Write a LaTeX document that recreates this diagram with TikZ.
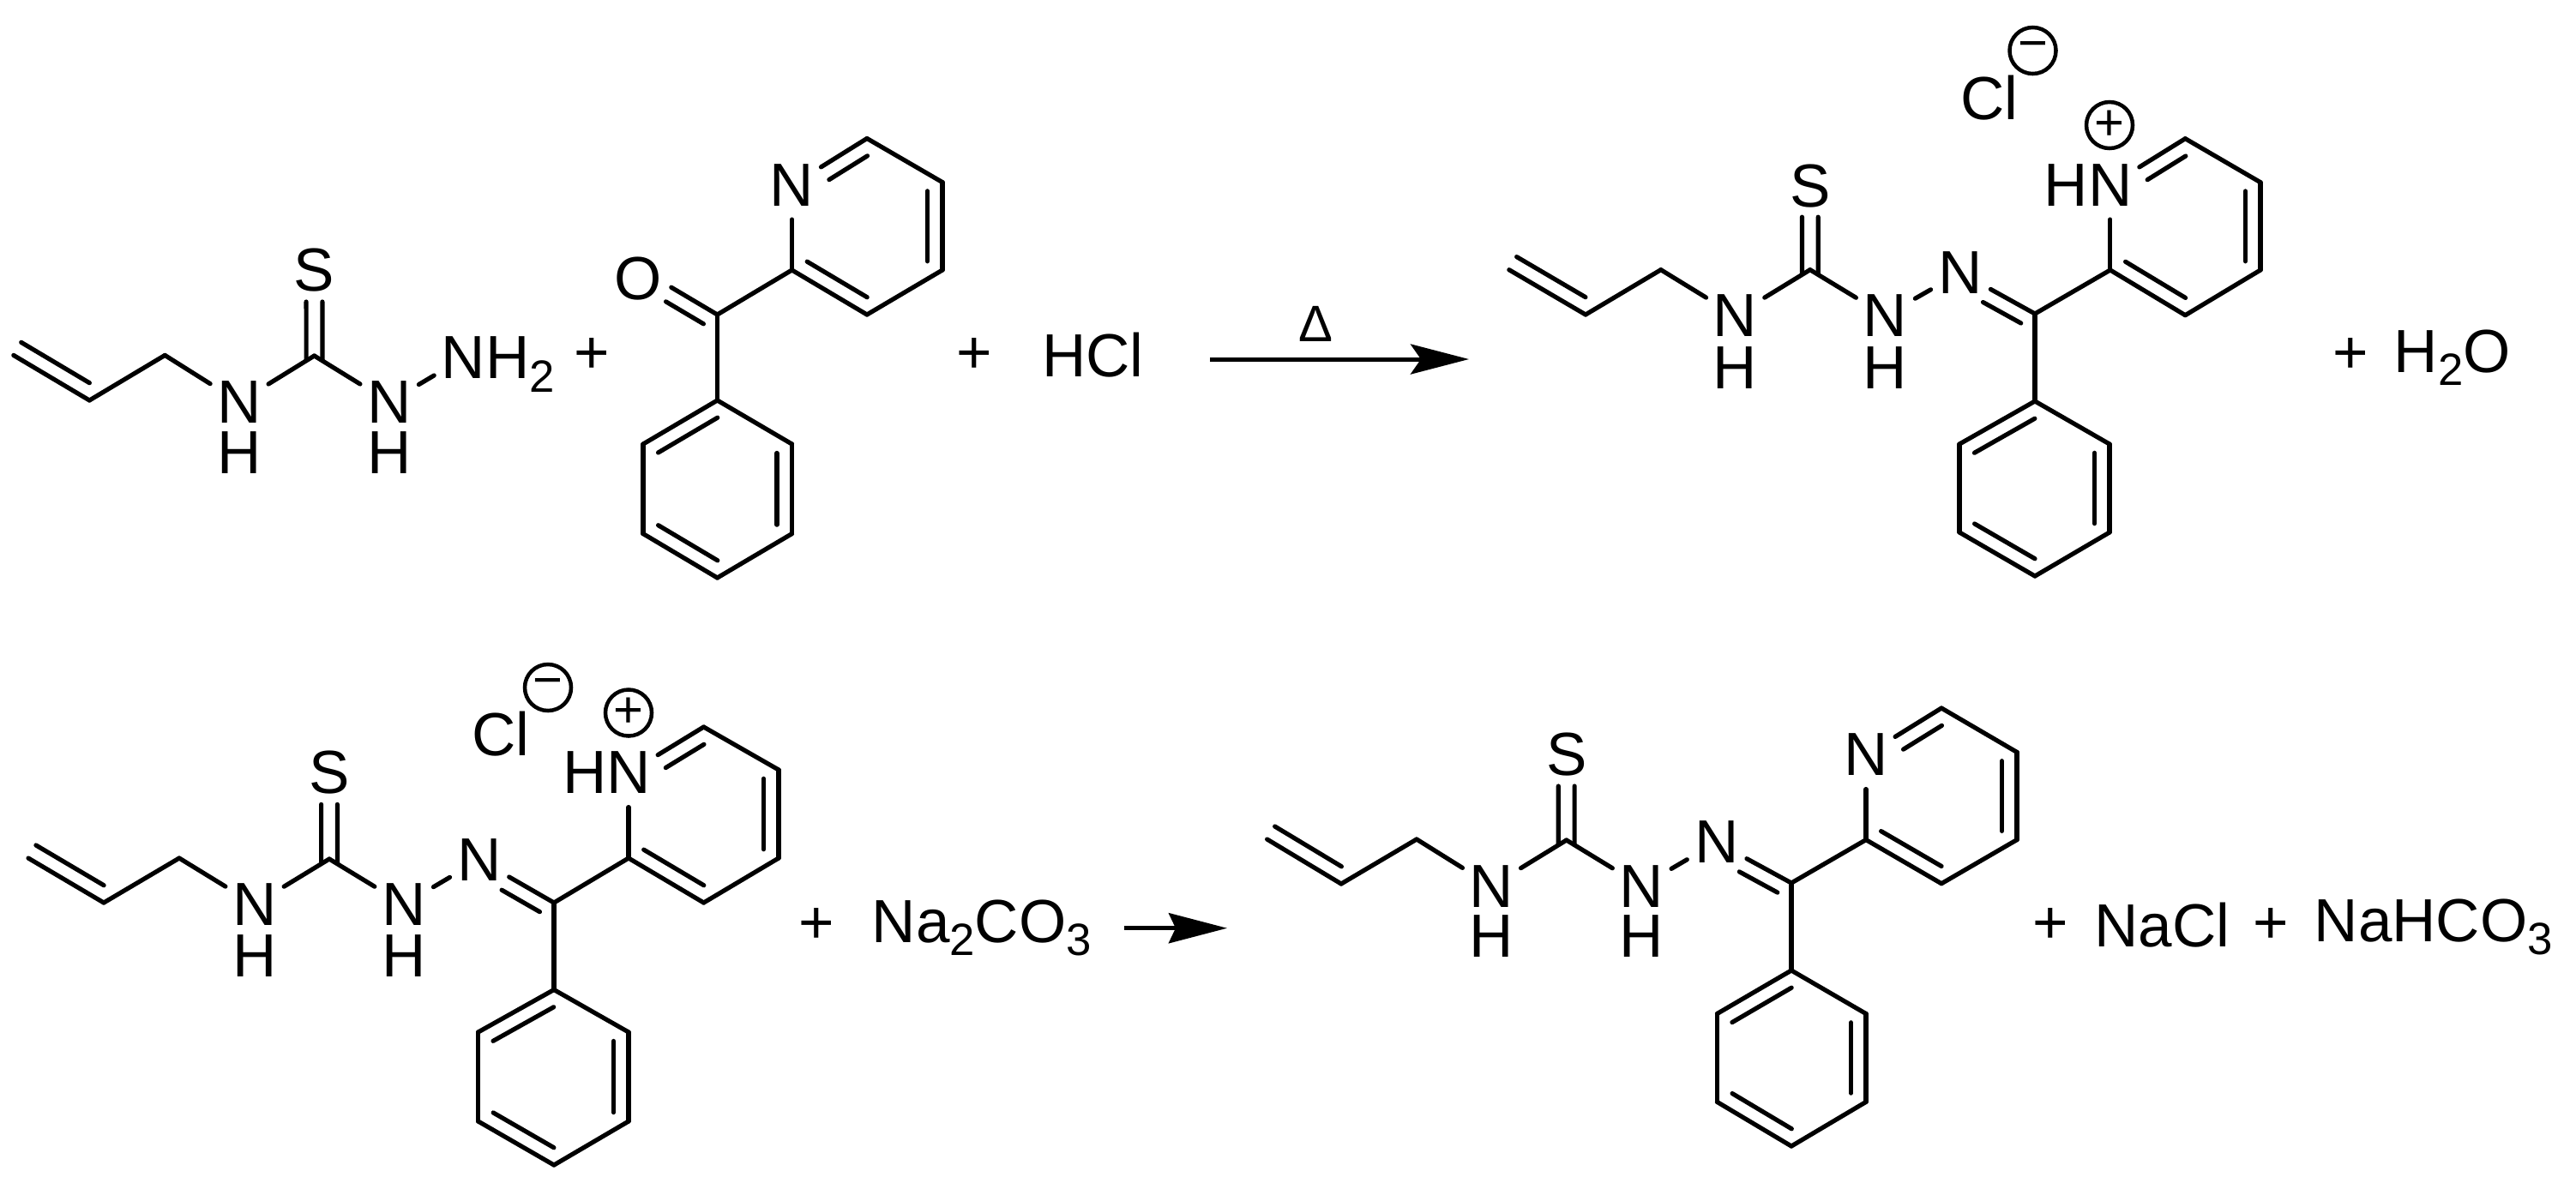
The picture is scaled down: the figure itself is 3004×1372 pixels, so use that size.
\documentclass[tikz,border=0pt]{standalone}
\usepackage{fontspec}
\setmainfont{Liberation Sans}
\usetikzlibrary{arrows.meta,calc}
\newcommand{\subs}[1]{\raisebox{-4.5pt}{\fontsize{15}{15}\selectfont #1}}
% parallel line of a double bond, on the right hand of a->b
\newcommand{\inbond}[5][.175cm]{
	\coordinate (n) at ($(#2)!#1!-90:(#5)$);
	\draw[bond] ($(#2)!#3!(#5)+(n)-(#2)$) -- ($(#2)!#4!(#5)+(n)-(#2)$);
}
\begin{document}
\begin{tikzpicture}[x=.01cm,y=-.01cm]
	\tikzstyle{bond}=[line width=.052cm,line cap=round]
	\tikzstyle{atom}=[circle,inner sep=0,outer sep=0,minimum size=.8cm,font=\fontsize{20.2}{24}\selectfont]
	\tikzstyle{lab}=[inner sep=0,font=\fontsize{20.2}{24}\selectfont]
	\tikzstyle{txt}=[anchor=base west,inner sep=0,font=\fontsize{20.2}{24}\selectfont]
	\tikzstyle{charge}=[circle,draw,line width=.045cm,inner sep=0,minimum size=.54cm,font=\fontsize{17}{20}\selectfont]
	\tikzstyle{rxn}=[line width=.05cm,-{Stealth[length=.68cm,width=.35cm,inset=.12cm]}]
	\useasboundingbox (0,0) rectangle (3004,1372);

	% first row, left
	\coordinate (a-1) at (15.8,414.4);
	\coordinate (a-2) at (104.3,467);
	\coordinate (a-3) at (192.3,414.4);
	\node[atom] (a-4) at (279,469) {N};
	\node[lab] (a-4h) at (279,528) {H};
	\coordinate (a-5) at (366.5,415);
	\node[atom] (a-s) at (366.5,315) {S};
	\node[atom] (a-6) at (454,469) {N};
	\node[lab] (a-6h) at (454,528) {H};
	\node[atom] (a-7) at (540.6,417.5) {N\smash{\rlap{H\subs{2}}}};

	\path[bond]
	(a-1) edge (a-2)
	(a-2) edge (a-3)
	(a-3) edge (a-4)
	(a-4) edge (a-5)
	(a-5) edge (a-6)
	(a-6) edge (a-7)
	;
	\inbond{a-2}{.1}{1}{a-1}
	\inbond[.094cm]{a-5}{-.05}{.63}{a-s}
	\inbond[-.094cm]{a-5}{-.05}{.63}{a-s}

	\node[lab] (p-1) at (690,415) {+};

	% ketone
	\coordinate (b-1) at (836.5,367);
	\coordinate (b-o) at (747,314);
	\node[atom] (b-ol) at (744.6,325.5) {O};
	\coordinate (b-2) at (923.5,315);
	\node[atom] (b-3) at (923.5,216) {N};
	\coordinate (b-4) at (1011,161.5);
	\coordinate (b-5) at (1099,212.6);
	\coordinate (b-6) at (1099,315);
	\coordinate (b-7) at (1011,367);
	\coordinate (b-8) at (836.5,467);
	\coordinate (b-9) at (923.5,518);
	\coordinate (b-10) at (923.5,622.6);
	\coordinate (b-11) at (836.5,674);
	\coordinate (b-12) at (750,622.6);
	\coordinate (b-13) at (750,518);

	\path[bond]
	(b-1) edge (b-2)
	(b-2) edge (b-3)
	(b-3) edge (b-4)
	(b-4) edge (b-5)
	(b-5) edge (b-6)
	(b-6) edge (b-7)
	(b-7) edge (b-2)
	(b-1) edge (b-8)
	(b-8) edge (b-9)
	(b-9) edge (b-10)
	(b-10) edge (b-11)
	(b-11) edge (b-12)
	(b-12) edge (b-13)
	(b-13) edge (b-8)
	;
	\inbond[0cm]{b-o}{.4}{1}{b-1}
	\inbond{b-o}{.43}{.92}{b-1}
	\inbond{b-3}{.39}{.9}{b-4}
	\inbond{b-5}{.1}{.9}{b-6}
	\inbond{b-7}{.1}{.9}{b-2}
	\inbond{b-9}{.1}{.9}{b-10}
	\inbond{b-11}{.1}{.9}{b-12}
	\inbond{b-13}{.1}{.9}{b-8}

	\node[lab] (p-2) at (1136,415) {+};
	\node[txt] (hcl) at (1214.4,439) {HCl};

	\coordinate (r1-s) at (1411,419);
	\coordinate (r1-e) at (1713,419);
	\draw[rxn] (r1-s) -- (r1-e);
	\node[lab,font=\fontsize{17}{20}\selectfont] (heat) at (1534,377.6) {Δ};

	% salt, first row
	\coordinate (c-1) at (1759.8,314.7);
	\coordinate (c-2) at (1849,367);
	\coordinate (c-3) at (1936.8,314.7);
	\node[atom] (c-4) at (2023.6,368) {N};
	\node[lab] (c-4h) at (2023.6,428.6) {H};
	\coordinate (c-5) at (2110.8,314.7);
	\node[atom] (c-s) at (2110.8,217) {S};
	\node[atom] (c-6) at (2198.6,368) {N};
	\node[lab] (c-6h) at (2198.6,428.6) {H};
	\node[atom] (c-7) at (2286.3,318) {N};
	\coordinate (c-8) at (2373,366);
	\coordinate (c-9) at (2460.8,315);
	\node[atom] (c-10) at (2460.8,216) {\llap{H}N};
	\coordinate (c-11) at (2548.3,161.7);
	\coordinate (c-12) at (2636,212.7);
	\coordinate (c-13) at (2636,315);
	\coordinate (c-14) at (2548.3,367.7);
	\coordinate (c-15) at (2373,468);
	\coordinate (c-16) at (2460,518);
	\coordinate (c-17) at (2460,621);
	\coordinate (c-18) at (2373,672);
	\coordinate (c-19) at (2285,621);
	\coordinate (c-20) at (2285,518);
	\node[charge] (c-pos) at (2460,146) {+};
	\node[charge] (c-neg) at (2370.5,59) {−};
	\node[txt] (c-cl) at (2285.5,139) {Cl};

	\path[bond]
	(c-1) edge (c-2)
	(c-2) edge (c-3)
	(c-3) edge (c-4)
	(c-4) edge (c-5)
	(c-5) edge (c-6)
	(c-6) edge (c-7)
	(c-7) edge (c-8)
	(c-8) edge (c-9)
	(c-9) edge (c-10)
	(c-10) edge (c-11)
	(c-11) edge (c-12)
	(c-12) edge (c-13)
	(c-13) edge (c-14)
	(c-14) edge (c-9)
	(c-8) edge (c-15)
	(c-15) edge (c-16)
	(c-16) edge (c-17)
	(c-17) edge (c-18)
	(c-18) edge (c-19)
	(c-19) edge (c-20)
	(c-20) edge (c-15)
	;
	\inbond{c-2}{.1}{1}{c-1}
	\inbond[.094cm]{c-5}{-.05}{.63}{c-s}
	\inbond[-.094cm]{c-5}{-.05}{.63}{c-s}
	\inbond{c-7}{.4}{.91}{c-8}
	\inbond{c-10}{.39}{.9}{c-11}
	\inbond{c-12}{.1}{.9}{c-13}
	\inbond{c-14}{.1}{.9}{c-9}
	\inbond{c-16}{.1}{.9}{c-17}
	\inbond{c-18}{.1}{.9}{c-19}
	\inbond{c-20}{.1}{.9}{c-15}

	\node[lab] (p-3) at (2741,415) {+};
	\node[txt] (water) at (2791,434) {H\subs{2}O};

	% salt, second row
	\coordinate (d-1) at (33,1001);
	\coordinate (d-2) at (121,1053);
	\coordinate (d-3) at (209,1001);
	\node[atom] (d-4) at (297,1055) {N};
	\node[lab] (d-4h) at (297,1115) {H};
	\coordinate (d-5) at (384,1002);
	\node[atom] (d-s) at (384,901) {S};
	\node[atom] (d-6) at (471,1055) {N};
	\node[lab] (d-6h) at (471,1115) {H};
	\node[atom] (d-7) at (559,1003) {N};
	\coordinate (d-8) at (646,1053);
	\coordinate (d-9) at (733,1001);
	\node[atom] (d-10) at (733,901.5) {\llap{H}N};
	\coordinate (d-11) at (820.6,848);
	\coordinate (d-12) at (908,898);
	\coordinate (d-13) at (908,1001);
	\coordinate (d-14) at (820.6,1053);
	\coordinate (d-15) at (646,1154.5);
	\coordinate (d-16) at (733,1204);
	\coordinate (d-17) at (733,1308);
	\coordinate (d-18) at (646,1359);
	\coordinate (d-19) at (557.6,1308);
	\coordinate (d-20) at (557.6,1204);
	\node[charge] (d-pos) at (733,831.5) {+};
	\node[charge] (d-neg) at (639,802) {−};
	\node[txt] (d-cl) at (549.5,881) {Cl};

	\path[bond]
	(d-1) edge (d-2)
	(d-2) edge (d-3)
	(d-3) edge (d-4)
	(d-4) edge (d-5)
	(d-5) edge (d-6)
	(d-6) edge (d-7)
	(d-7) edge (d-8)
	(d-8) edge (d-9)
	(d-9) edge (d-10)
	(d-10) edge (d-11)
	(d-11) edge (d-12)
	(d-12) edge (d-13)
	(d-13) edge (d-14)
	(d-14) edge (d-9)
	(d-8) edge (d-15)
	(d-15) edge (d-16)
	(d-16) edge (d-17)
	(d-17) edge (d-18)
	(d-18) edge (d-19)
	(d-19) edge (d-20)
	(d-20) edge (d-15)
	;
	\inbond{d-2}{.1}{1}{d-1}
	\inbond[.094cm]{d-5}{-.05}{.63}{d-s}
	\inbond[-.094cm]{d-5}{-.05}{.63}{d-s}
	\inbond{d-7}{.4}{.91}{d-8}
	\inbond{d-10}{.39}{.9}{d-11}
	\inbond{d-12}{.1}{.9}{d-13}
	\inbond{d-14}{.1}{.9}{d-9}
	\inbond{d-16}{.1}{.9}{d-17}
	\inbond{d-18}{.1}{.9}{d-19}
	\inbond{d-20}{.1}{.9}{d-15}

	\node[lab] (p-4) at (952,1080) {+};
	\node[txt] (carb) at (1016,1099) {Na\subs{2}CO\subs{3}};

	\coordinate (r2-s) at (1310.7,1082.7);
	\coordinate (r2-e) at (1431,1082.7);
	\draw[rxn,-{Stealth[length=.68cm,width=.35cm,inset=.08cm]}] (r2-s) -- (r2-e);

	% free base
	\coordinate (e-1) at (1477.6,979);
	\coordinate (e-2) at (1564,1031);
	\coordinate (e-3) at (1652,979);
	\node[atom] (e-4) at (1739.4,1033.6) {N};
	\node[lab] (e-4h) at (1739.4,1092.5) {H};
	\coordinate (e-5) at (1826.7,980);
	\node[atom] (e-s) at (1826.7,880) {S};
	\node[atom] (e-6) at (1914.5,1033.6) {N};
	\node[lab] (e-6h) at (1914.5,1092.5) {H};
	\node[atom] (e-7) at (2001.8,982.5) {N};
	\coordinate (e-8) at (2089,1030);
	\coordinate (e-9) at (2176,979.6);
	\node[atom] (e-10) at (2176,880.5) {N};
	\coordinate (e-11) at (2264,826);
	\coordinate (e-12) at (2352,877.4);
	\coordinate (e-13) at (2352,979.6);
	\coordinate (e-14) at (2264,1030.7);
	\coordinate (e-15) at (2089,1132);
	\coordinate (e-16) at (2176,1182.5);
	\coordinate (e-17) at (2176,1285.4);
	\coordinate (e-18) at (2089,1337);
	\coordinate (e-19) at (2002.4,1285.4);
	\coordinate (e-20) at (2002.4,1182.5);

	\path[bond]
	(e-1) edge (e-2)
	(e-2) edge (e-3)
	(e-3) edge (e-4)
	(e-4) edge (e-5)
	(e-5) edge (e-6)
	(e-6) edge (e-7)
	(e-7) edge (e-8)
	(e-8) edge (e-9)
	(e-9) edge (e-10)
	(e-10) edge (e-11)
	(e-11) edge (e-12)
	(e-12) edge (e-13)
	(e-13) edge (e-14)
	(e-14) edge (e-9)
	(e-8) edge (e-15)
	(e-15) edge (e-16)
	(e-16) edge (e-17)
	(e-17) edge (e-18)
	(e-18) edge (e-19)
	(e-19) edge (e-20)
	(e-20) edge (e-15)
	;
	\inbond{e-2}{.1}{1}{e-1}
	\inbond[.094cm]{e-5}{-.05}{.63}{e-s}
	\inbond[-.094cm]{e-5}{-.05}{.63}{e-s}
	\inbond{e-7}{.4}{.91}{e-8}
	\inbond{e-10}{.39}{.9}{e-11}
	\inbond{e-12}{.1}{.9}{e-13}
	\inbond{e-14}{.1}{.9}{e-9}
	\inbond{e-16}{.1}{.9}{e-17}
	\inbond{e-18}{.1}{.9}{e-19}
	\inbond{e-20}{.1}{.9}{e-15}

	\node[lab] (p-5) at (2391,1080) {+};
	\node[txt] (nacl) at (2441.6,1104) {NaCl};
	\node[lab] (p-6) at (2648,1080) {+};
	\node[txt] (bicarb) at (2698,1098) {NaHCO\subs{3}};
\end{tikzpicture}
\end{document}
